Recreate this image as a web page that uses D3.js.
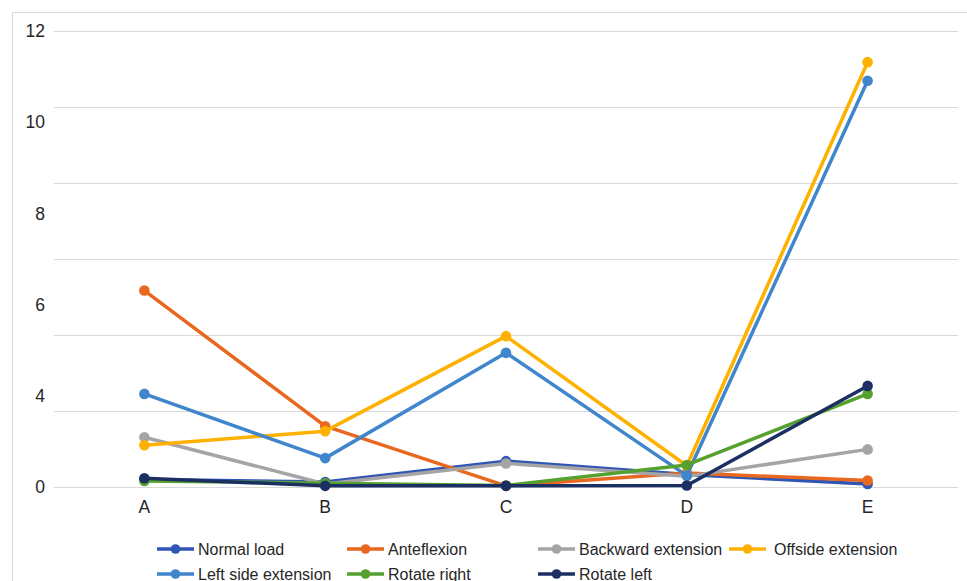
<!DOCTYPE html>
<html>
<head>
<meta charset="utf-8">
<script src="https://cdn.jsdelivr.net/npm/d3@7/dist/d3.min.js"></script>
<style>
  html, body { margin: 0; padding: 0; background: #fff; }
  svg { display: block; font-family: "Liberation Sans", Arial, Helvetica, sans-serif; }
</style>
</head>
<body>
<svg id="chart" width="967" height="581"></svg>
<script>
// ---- Data ----
const categories = ["A", "B", "C", "D", "E"];
const seriesNames = ["Normal load", "Anteflexion", "Backward extension", "Offside extension",
                     "Left side extension", "Rotate right", "Rotate left"];
const normalLoad        = [0.20, 0.13, 0.68, 0.33, 0.08];
const anteflexion       = [5.17, 1.60, 0.03, 0.37, 0.17];
const backwardExtension = [1.31, 0.08, 0.62, 0.28, 0.99];
const offsideExtension  = [1.10, 1.47, 3.97, 0.56, 11.18];
const leftSideExtension = [2.45, 0.76, 3.53, 0.30, 10.69];
const rotateRight       = [0.16, 0.10, 0.04, 0.58, 2.45];
const rotateLeft        = [0.23, 0.03, 0.03, 0.04, 2.66];
const gridValues = [0, 2, 4, 6, 8, 10, 12];
const yTickLabels = ["12", "10", "8", "6", "4", "0"];
const colors = ["#2F55B5", "#E8681F", "#A5A5A5", "#FFB100", "#4086CC", "#55A02E", "#1B2F62"];

const seriesValues = [normalLoad, anteflexion, backwardExtension, offsideExtension,
                      leftSideExtension, rotateRight, rotateLeft];
const series = seriesNames.map((name, i) => ({ name, values: seriesValues[i], color: colors[i] }));

// ---- Layout ----
const svg = d3.select("#chart");
const plot = { left: 54, right: 958, top: 31, bottom: 487 };
const textColor = "#262626";

// chart frame
svg.append("rect")
  .attr("x", 12.5).attr("y", 12.5)
  .attr("width", 1000).attr("height", 1000)
  .attr("fill", "none").attr("stroke", "#d9d9d9").attr("stroke-width", 1);

const x = d3.scaleBand().domain(categories).range([plot.left, plot.right]);
const y = d3.scaleLinear().domain([0, 12]).range([plot.bottom, plot.top]);
const yLabelPos = d3.scalePoint().domain(yTickLabels).range([plot.top, plot.bottom]);

// gridlines
svg.append("g").selectAll("line").data(gridValues).join("line")
  .attr("x1", plot.left).attr("x2", plot.right)
  .attr("y1", d => Math.round(y(d)) + 0.5).attr("y2", d => Math.round(y(d)) + 0.5)
  .attr("stroke", "#d9d9d9").attr("stroke-width", 1);

// y labels
svg.append("g").selectAll("text").data(yTickLabels).join("text")
  .attr("x", 45).attr("y", d => yLabelPos(d))
  .attr("dy", "0.35em")
  .attr("text-anchor", "end")
  .attr("font-size", 17.5).attr("fill", textColor)
  .text(d => d);

// x labels
const xAxis = d3.axisBottom(x).tickSize(0).tickPadding(14);
const gx = svg.append("g").attr("transform", `translate(0,${plot.bottom})`).call(xAxis);
gx.select(".domain").remove();
gx.selectAll("text").attr("font-size", 17.5).attr("fill", textColor)
  .attr("font-family", "'Liberation Sans', Arial, sans-serif");

// lines
const cx = c => x(c) + x.bandwidth() / 2;
const line = d3.line().x((d, i) => cx(categories[i])).y(d => y(d));

const sg = svg.append("g").selectAll("g").data(series).join("g");
sg.append("path")
  .attr("d", d => line(d.values))
  .attr("fill", "none").attr("stroke", d => d.color)
  .attr("stroke-width", 3.5).attr("stroke-linejoin", "round").attr("stroke-linecap", "round");
sg.each(function(s) {
  d3.select(this).selectAll("circle").data(s.values).join("circle")
    .attr("cx", (d, i) => cx(categories[i])).attr("cy", d => y(d))
    .attr("r", 5.3).attr("fill", s.color);
});

// legend
const legendCols = [157, 347, 538, 729];
const legendRows = [549, 574];
const legendTextOffset = [41, 41, 41, 45];
const lg = svg.append("g").selectAll("g").data(series).join("g")
  .attr("transform", (d, i) => {
    const col = i < 4 ? i : i - 4;
    const row = i < 4 ? 0 : 1;
    return `translate(${legendCols[col]},${legendRows[row]})`;
  });
lg.append("line").attr("x1", 0).attr("x2", 37).attr("y1", 0).attr("y2", 0)
  .attr("stroke", d => d.color).attr("stroke-width", 3.5);
lg.append("circle").attr("cx", 18.5).attr("cy", 0).attr("r", 4.8).attr("fill", d => d.color);
lg.append("text")
  .attr("x", (d, i) => legendTextOffset[i < 4 ? i : i - 4])
  .attr("y", 0).attr("dy", "0.35em")
  .attr("font-size", 16).attr("fill", textColor)
  .text(d => d.name);
</script>
</body>
</html>
